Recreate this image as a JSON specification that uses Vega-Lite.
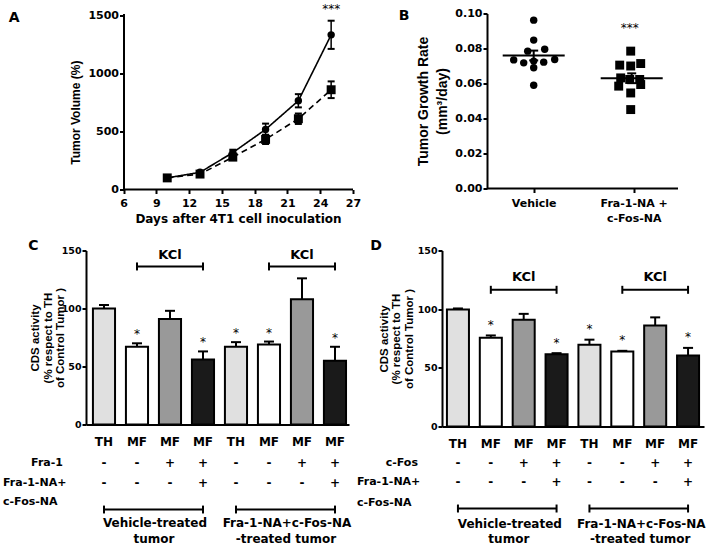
{
"$schema": "https://vega.github.io/schema/vega-lite/v6.json",
"padding": {"left": 2, "top": 2.5, "right": 4, "bottom": 4},
"config": {
 "view": {"stroke": null},
 "font": "DejaVu Sans",
 "axis": {"domainColor": "#000", "domainWidth": 2, "tickColor": "#000", "tickWidth": 2, "labelColor": "#000", "labelFont": "DejaVu Sans", "labelFontWeight": "bold", "labelFontSize": 11, "labelOverlap": false, "titleColor": "#000", "titleFont": "Liberation Sans", "titleFontWeight": "bold", "titleFontSize": 12, "grid": false},
 "text": {"color": "#000", "font": "DejaVu Sans", "fontWeight": "bold", "fontSize": 12},
 "tick": {"color": "#000", "opacity": 1},
 "rule": {"color": "#000"},
 "line": {"color": "#000"}
},
"datasets": {
 "A": [
  {"day": 10, "group": "Vehicle", "mean": 100, "lo": 95, "hi": 105},
  {"day": 13, "group": "Vehicle", "mean": 148, "lo": 136, "hi": 160},
  {"day": 16, "group": "Vehicle", "mean": 318, "lo": 293, "hi": 343},
  {"day": 19, "group": "Vehicle", "mean": 518, "lo": 468, "hi": 568},
  {"day": 22, "group": "Vehicle", "mean": 765, "lo": 708, "hi": 822},
  {"day": 25, "group": "Vehicle", "mean": 1333, "lo": 1212, "hi": 1455},
  {"day": 10, "group": "Fra-1-NA + c-Fos-NA", "mean": 100, "lo": 95, "hi": 105},
  {"day": 13, "group": "Fra-1-NA + c-Fos-NA", "mean": 133, "lo": 121, "hi": 145},
  {"day": 16, "group": "Fra-1-NA + c-Fos-NA", "mean": 279, "lo": 257, "hi": 301},
  {"day": 19, "group": "Fra-1-NA + c-Fos-NA", "mean": 432, "lo": 392, "hi": 472},
  {"day": 22, "group": "Fra-1-NA + c-Fos-NA", "mean": 610, "lo": 565, "hi": 655},
  {"day": 25, "group": "Fra-1-NA + c-Fos-NA", "mean": 860, "lo": 788, "hi": 932}
 ],
 "oneA": [{"panel": "A"}],
 "oneB": [{"panel": "B"}],
 "oneC": [{"panel": "C"}],
 "oneD": [{"panel": "D"}],
 "B": [
  {"grp": "Vehicle", "pos": 1.00, "rate": 0.0962},
  {"grp": "Vehicle", "pos": 1.00, "rate": 0.0848},
  {"grp": "Vehicle", "pos": 1.11, "rate": 0.0796},
  {"grp": "Vehicle", "pos": 0.94, "rate": 0.0785},
  {"grp": "Vehicle", "pos": 0.80, "rate": 0.0735},
  {"grp": "Vehicle", "pos": 0.90, "rate": 0.0718},
  {"grp": "Vehicle", "pos": 1.00, "rate": 0.0728},
  {"grp": "Vehicle", "pos": 1.10, "rate": 0.0722},
  {"grp": "Vehicle", "pos": 1.21, "rate": 0.0737},
  {"grp": "Vehicle", "pos": 1.00, "rate": 0.0690},
  {"grp": "Vehicle", "pos": 1.00, "rate": 0.0590},
  {"grp": "Fra-1-NA + c-Fos-NA", "pos": 1.97, "rate": 0.0785},
  {"grp": "Fra-1-NA + c-Fos-NA", "pos": 1.86, "rate": 0.0705},
  {"grp": "Fra-1-NA + c-Fos-NA", "pos": 1.97, "rate": 0.0700},
  {"grp": "Fra-1-NA + c-Fos-NA", "pos": 2.07, "rate": 0.0714},
  {"grp": "Fra-1-NA + c-Fos-NA", "pos": 1.87, "rate": 0.0632},
  {"grp": "Fra-1-NA + c-Fos-NA", "pos": 1.96, "rate": 0.0623},
  {"grp": "Fra-1-NA + c-Fos-NA", "pos": 2.06, "rate": 0.0623},
  {"grp": "Fra-1-NA + c-Fos-NA", "pos": 1.85, "rate": 0.0585},
  {"grp": "Fra-1-NA + c-Fos-NA", "pos": 2.07, "rate": 0.0594},
  {"grp": "Fra-1-NA + c-Fos-NA", "pos": 1.97, "rate": 0.0546},
  {"grp": "Fra-1-NA + c-Fos-NA", "pos": 1.97, "rate": 0.0451}
 ],
 "Bsum": [
  {"grp": "Vehicle", "pos": 1.00, "rate": 0.0760, "lo": 0.0732, "hi": 0.0788},
  {"grp": "Fra-1-NA + c-Fos-NA", "pos": 1.98, "rate": 0.0630, "lo": 0.0602, "hi": 0.0658}
 ],
 "C": [
  {"bar": "1", "cond": "TH", "mean": 100, "hi": 103, "star": "", "s1": "-", "s2": "-"},
  {"bar": "2", "cond": "MF", "mean": 67, "hi": 70, "star": "*", "s1": "-", "s2": "-"},
  {"bar": "3", "cond": "MF+", "mean": 91, "hi": 98, "star": "", "s1": "+", "s2": "-"},
  {"bar": "4", "cond": "MF++", "mean": 56, "hi": 63, "star": "*", "s1": "+", "s2": "+"},
  {"bar": "5", "cond": "TH", "mean": 67, "hi": 71, "star": "*", "s1": "-", "s2": "-"},
  {"bar": "6", "cond": "MF", "mean": 69, "hi": 71.5, "star": "*", "s1": "-", "s2": "-"},
  {"bar": "7", "cond": "MF+", "mean": 108, "hi": 126, "star": "", "s1": "+", "s2": "-"},
  {"bar": "8", "cond": "MF++", "mean": 55, "hi": 67, "star": "*", "s1": "+", "s2": "+"}
 ],
 "D": [
  {"bar": "1", "cond": "TH", "mean": 99.7, "hi": 100.6, "star": "", "s1": "-", "s2": "-"},
  {"bar": "2", "cond": "MF", "mean": 75.6, "hi": 77.6, "star": "*", "s1": "-", "s2": "-"},
  {"bar": "3", "cond": "MF+", "mean": 91, "hi": 96, "star": "", "s1": "+", "s2": "-"},
  {"bar": "4", "cond": "MF++", "mean": 61.6, "hi": 62.5, "star": "*", "s1": "+", "s2": "+"},
  {"bar": "5", "cond": "TH", "mean": 69.6, "hi": 74, "star": "*", "s1": "-", "s2": "-"},
  {"bar": "6", "cond": "MF", "mean": 64, "hi": 64.5, "star": "*", "s1": "-", "s2": "-"},
  {"bar": "7", "cond": "MF+", "mean": 86, "hi": 93, "star": "", "s1": "+", "s2": "-"},
  {"bar": "8", "cond": "MF++", "mean": 60.5, "hi": 67, "star": "*", "s1": "+", "s2": "+"}
 ],
 "kclC": [{"panel": "C", "a": "2", "b": "4", "m": "3"}, {"panel": "C", "a": "6", "b": "8", "m": "7"}],
 "kclD": [{"panel": "D", "a": "2", "b": "4", "m": "3"}, {"panel": "D", "a": "6", "b": "8", "m": "7"}],
 "grpC": [
  {"panel": "C", "a": "1", "b": "4", "m": "2", "l1": "Vehicle-treated", "l2": "tumor"},
  {"panel": "C", "a": "5", "b": "8", "m": "6", "l1": "Fra-1-NA+c-Fos-NA", "l2": "-treated tumor"}
 ],
 "grpD": [
  {"panel": "D", "a": "1", "b": "4", "m": "2", "l1": "Vehicle-treated", "l2": "tumor"},
  {"panel": "D", "a": "5", "b": "8", "m": "6", "l1": "Fra-1-NA+c-Fos-NA", "l2": "-treated tumor"}
 ]
},
"columns": 2,
"spacing": {"row": 61, "column": 89},
"bounds": "flush",
"align": "all",
"concat": [
 {
  "width": 267, "height": 176,
  "data": {"name": "A"},
  "layer": [
   {"mark": {"type": "rule", "strokeWidth": 1.5}, "encoding": {
     "x": {"field": "day", "type": "quantitative", "scale": {"domain": [2.565, 27], "nice": false, "zero": false},
      "axis": {"values": [6, 9, 12, 15, 18, 21, 24, 27], "format": "d", "tickCount": 50, "labelOverlap": false, "labelFlush": false, "domain": false, "tickSize": 4, "labelPadding": 3.5, "title": "Days after 4T1 cell inoculation", "titleFont": "DejaVu Sans", "titleFontSize": 12, "titleX": 152, "titlePadding": 5}},
     "y": {"field": "lo", "type": "quantitative", "scale": {"domain": [0, 1517.2], "nice": false},
      "axis": {"values": [0, 500, 1000, 1500], "tickCount": 50, "labelOverlap": false, "labelFlush": false, "format": "d", "offset": -37.5, "tickSize": 4, "labelPadding": 1, "title": "Tumor Volume (%)", "titleFontSize": 12, "titlePadding": 5, "titleY": 98.7}},
     "y2": {"field": "hi"}}},
   {"mark": {"type": "tick", "orient": "horizontal", "size": 7, "thickness": 2}, "encoding": {"x": {"field": "day", "type": "quantitative"}, "y": {"field": "hi", "type": "quantitative"}}},
   {"mark": {"type": "tick", "orient": "horizontal", "size": 7, "thickness": 2}, "encoding": {"x": {"field": "day", "type": "quantitative"}, "y": {"field": "lo", "type": "quantitative"}}},
   {"mark": {"type": "line", "strokeWidth": 1.6}, "encoding": {"x": {"field": "day", "type": "quantitative"}, "y": {"field": "mean", "type": "quantitative"},
     "strokeDash": {"field": "group", "type": "nominal", "scale": {"domain": ["Vehicle", "Fra-1-NA + c-Fos-NA"], "range": [[1, 0], [6, 4]]}, "legend": null}}},
   {"mark": {"type": "point", "filled": true, "opacity": 1, "color": "#000"}, "encoding": {"x": {"field": "day", "type": "quantitative"}, "y": {"field": "mean", "type": "quantitative"},
     "shape": {"field": "group", "type": "nominal", "scale": {"domain": ["Vehicle", "Fra-1-NA + c-Fos-NA"], "range": ["circle", "square"]}, "legend": null},
     "size": {"field": "group", "type": "nominal", "scale": {"domain": ["Vehicle", "Fra-1-NA + c-Fos-NA"], "range": [55, 80]}, "legend": null}}},
   {"data": {"name": "oneA"}, "mark": {"type": "rule", "strokeWidth": 2}, "encoding": {"x": {"datum": 6}, "x2": {"datum": 27}, "y": {"datum": 0}}},
   {"data": {"name": "oneA"}, "mark": {"type": "text", "fontWeight": "normal", "fontSize": 12, "baseline": "middle"}, "encoding": {"x": {"datum": 25}, "y": {"datum": 1556}, "text": {"value": "***"}}},
   {"data": {"name": "oneA"}, "mark": {"type": "text", "fontSize": 14, "baseline": "middle"}, "encoding": {"x": {"datum": -4.01}, "y": {"datum": 1479}, "text": {"field": "panel"}}}
  ]
 },
 {
  "width": 236, "height": 175,
  "data": {"name": "B"},
  "layer": [
   {"mark": {"type": "point", "filled": true, "opacity": 1, "color": "#000"}, "encoding": {
     "x": {"field": "pos", "type": "quantitative", "scale": {"domain": [0.083, 2.443], "nice": false, "zero": false},
      "axis": {"values": [1, 2], "tickCount": 50, "labelOverlap": false, "labelFlush": false, "domain": false, "tickSize": 4, "labelPadding": 5, "labelExpr": "datum.value == 1 ? 'Vehicle' : ['Fra-1-NA +', 'c-Fos-NA']", "labelLineHeight": 15, "title": null}},
     "y": {"field": "rate", "type": "quantitative", "scale": {"domain": [0, 0.1], "nice": false},
      "axis": {"values": [0, 0.02, 0.04, 0.06, 0.08, 0.1], "tickCount": 50, "labelOverlap": false, "labelFlush": false, "format": ".2f", "offset": -45, "tickSize": 4, "labelPadding": 1, "title": ["Tumor Growth Rate", "(mm³/day)"], "titleFontSize": 14, "titleLineHeight": 19, "titlePadding": 5}},
     "shape": {"field": "grp", "type": "nominal", "scale": {"domain": ["Vehicle", "Fra-1-NA + c-Fos-NA"], "range": ["circle", "square"]}, "legend": null},
     "size": {"field": "grp", "type": "nominal", "scale": {"domain": ["Vehicle", "Fra-1-NA + c-Fos-NA"], "range": [48, 70]}, "legend": null}}},
   {"data": {"name": "Bsum"}, "mark": {"type": "tick", "orient": "horizontal", "size": 62, "thickness": 2}, "encoding": {"x": {"field": "pos", "type": "quantitative"}, "y": {"field": "rate", "type": "quantitative"}}},
   {"data": {"name": "Bsum"}, "mark": {"type": "rule", "strokeWidth": 2}, "encoding": {"x": {"field": "pos", "type": "quantitative"}, "y": {"field": "lo", "type": "quantitative"}, "y2": {"field": "hi"}}},
   {"data": {"name": "Bsum"}, "mark": {"type": "tick", "orient": "horizontal", "size": 9, "thickness": 2}, "encoding": {"x": {"field": "pos", "type": "quantitative"}, "y": {"field": "hi", "type": "quantitative"}}},
   {"data": {"name": "Bsum"}, "mark": {"type": "tick", "orient": "horizontal", "size": 9, "thickness": 2}, "encoding": {"x": {"field": "pos", "type": "quantitative"}, "y": {"field": "lo", "type": "quantitative"}}},
   {"data": {"name": "oneB"}, "mark": {"type": "rule", "strokeWidth": 2}, "encoding": {"x": {"datum": 0.533}, "x2": {"datum": 2.443}, "y": {"datum": 0}}},
   {"data": {"name": "oneB"}, "mark": {"type": "text", "fontWeight": "normal", "fontSize": 12, "baseline": "middle"}, "encoding": {"x": {"datum": 1.96}, "y": {"datum": 0.0919}, "text": {"value": "***"}}},
   {"data": {"name": "oneB"}, "mark": {"type": "text", "fontSize": 14, "baseline": "middle"}, "encoding": {"x": {"datum": -0.297}, "y": {"datum": 0.0986}, "text": {"field": "panel"}}}
  ]
 },
 {
  "width": 263, "height": 174,
  "data": {"name": "C"},
  "layer": [
   {"mark": {"type": "bar", "stroke": "#000", "strokeWidth": 2}, "encoding": {
     "x": {"field": "bar", "type": "nominal", "scale": {"paddingInner": 0.33, "paddingOuter": 0.15, "align": 0.7},
      "axis": {"labelAngle": 0, "ticks": false, "labelPadding": 12, "labelFontSize": 12, "labelExpr": "datum.value == '1' || datum.value == '5' ? 'TH' : 'MF'", "title": null}},
     "y": {"field": "mean", "type": "quantitative", "scale": {"domain": [0, 150], "nice": false},
      "axis": {"values": [0, 50, 100, 150], "format": "d", "tickCount": 50, "labelOverlap": false, "labelFlush": false, "tickSize": 4, "labelPadding": 1, "labelFontSize": 9.5, "title": ["CDS activity", "(% respect to TH", "of Control Tumor )"], "titleFontSize": 11.5, "titleLineHeight": 12.5, "titlePadding": -4.5}},
     "fill": {"field": "cond", "type": "nominal", "scale": {"domain": ["TH", "MF", "MF+", "MF++"], "range": ["#e0e0e0", "#ffffff", "#999999", "#1a1a1a"]}, "legend": null}}},
   {"mark": {"type": "rule", "strokeWidth": 2}, "encoding": {"x": {"field": "bar", "type": "nominal"}, "y": {"field": "mean", "type": "quantitative"}, "y2": {"field": "hi"}}},
   {"mark": {"type": "tick", "orient": "horizontal", "size": 10, "thickness": 2}, "encoding": {"x": {"field": "bar", "type": "nominal"}, "y": {"field": "hi", "type": "quantitative"}}},
   {"mark": {"type": "text", "fontWeight": "normal", "fontSize": 12, "baseline": "middle", "dy": -9}, "encoding": {"x": {"field": "bar", "type": "nominal"}, "y": {"field": "hi", "type": "quantitative"}, "text": {"field": "star"}}},
   {"mark": {"type": "text", "baseline": "middle"}, "encoding": {"x": {"field": "bar", "type": "nominal"}, "y": {"datum": -32.8}, "text": {"field": "s1"}}},
   {"mark": {"type": "text", "baseline": "middle"}, "encoding": {"x": {"field": "bar", "type": "nominal"}, "y": {"datum": -50}, "text": {"field": "s2"}}},
   {"data": {"name": "oneC"}, "mark": {"type": "text", "fontSize": 11, "baseline": "middle", "align": "right", "dx": -41}, "encoding": {"x": {"datum": "1"}, "y": {"datum": -32.8}, "text": {"value": "Fra-1"}}},
   {"data": {"name": "oneC"}, "mark": {"type": "text", "fontSize": 11, "baseline": "middle", "align": "left", "dx": -101}, "encoding": {"x": {"datum": "1"}, "y": {"datum": -50}, "text": {"value": "Fra-1-NA+"}}},
   {"data": {"name": "oneC"}, "mark": {"type": "text", "fontSize": 11, "baseline": "middle", "align": "left", "dx": -101}, "encoding": {"x": {"datum": "1"}, "y": {"datum": -66.4}, "text": {"value": "c-Fos-NA"}}},
   {"data": {"name": "kclC"}, "mark": {"type": "rule", "strokeWidth": 2}, "encoding": {"x": {"field": "a", "type": "nominal"}, "x2": {"field": "b"}, "y": {"datum": 136.2}}},
   {"data": {"name": "kclC"}, "mark": {"type": "rule", "strokeWidth": 2}, "encoding": {"x": {"field": "a", "type": "nominal"}, "y": {"datum": 132.8}, "y2": {"datum": 139.7}}},
   {"data": {"name": "kclC"}, "mark": {"type": "rule", "strokeWidth": 2}, "encoding": {"x": {"field": "b", "type": "nominal"}, "y": {"datum": 132.8}, "y2": {"datum": 139.7}}},
   {"data": {"name": "kclC"}, "mark": {"type": "text", "fontSize": 13, "baseline": "middle"}, "encoding": {"x": {"field": "m", "type": "nominal"}, "y": {"datum": 145.9}, "text": {"value": "KCl"}}},
   {"data": {"name": "grpC"}, "mark": {"type": "rule", "strokeWidth": 2}, "encoding": {"x": {"field": "a", "type": "nominal"}, "x2": {"field": "b"}, "y": {"datum": -73.3}}},
   {"data": {"name": "grpC"}, "mark": {"type": "rule", "strokeWidth": 2}, "encoding": {"x": {"field": "a", "type": "nominal"}, "y": {"datum": -69.9}, "y2": {"datum": -76.7}}},
   {"data": {"name": "grpC"}, "mark": {"type": "rule", "strokeWidth": 2}, "encoding": {"x": {"field": "b", "type": "nominal"}, "y": {"datum": -69.9}, "y2": {"datum": -76.7}}},
   {"data": {"name": "grpC"}, "mark": {"type": "text", "baseline": "middle", "dx": 18}, "encoding": {"x": {"field": "m", "type": "nominal"}, "y": {"datum": -85.3}, "text": {"field": "l1"}}},
   {"data": {"name": "grpC"}, "mark": {"type": "text", "baseline": "middle", "dx": 17}, "encoding": {"x": {"field": "m", "type": "nominal"}, "y": {"datum": -98.3}, "text": {"field": "l2"}}},
   {"data": {"name": "oneC"}, "mark": {"type": "text", "fontSize": 14, "baseline": "middle", "dx": -70.5}, "encoding": {"x": {"datum": "1"}, "y": {"datum": 154.2}, "text": {"field": "panel"}}}
  ]
 },
 {
  "width": 262, "height": 176,
  "data": {"name": "D"},
  "layer": [
   {"mark": {"type": "bar", "stroke": "#000", "strokeWidth": 2}, "encoding": {
     "x": {"field": "bar", "type": "nominal", "scale": {"paddingInner": 0.33, "paddingOuter": 0.15, "align": 0.5},
      "axis": {"labelAngle": 0, "ticks": false, "labelPadding": 12, "labelFontSize": 12, "labelExpr": "datum.value == '1' || datum.value == '5' ? 'TH' : 'MF'", "title": null}},
     "y": {"field": "mean", "type": "quantitative", "scale": {"domain": [0, 150], "nice": false},
      "axis": {"values": [0, 50, 100, 150], "format": "d", "tickCount": 50, "labelOverlap": false, "labelFlush": false, "tickSize": 4, "labelPadding": 1, "labelFontSize": 9.5, "title": ["CDS activity", "(% respect to TH", "of Control Tumor )"], "titleFontSize": 11.5, "titleLineHeight": 12.5, "titlePadding": 3}},
     "fill": {"field": "cond", "type": "nominal", "scale": {"domain": ["TH", "MF", "MF+", "MF++"], "range": ["#e0e0e0", "#ffffff", "#999999", "#1a1a1a"]}, "legend": null}}},
   {"mark": {"type": "rule", "strokeWidth": 2}, "encoding": {"x": {"field": "bar", "type": "nominal"}, "y": {"field": "mean", "type": "quantitative"}, "y2": {"field": "hi"}}},
   {"mark": {"type": "tick", "orient": "horizontal", "size": 10, "thickness": 2}, "encoding": {"x": {"field": "bar", "type": "nominal"}, "y": {"field": "hi", "type": "quantitative"}}},
   {"mark": {"type": "text", "fontWeight": "normal", "fontSize": 12, "baseline": "middle", "dy": -10.5}, "encoding": {"x": {"field": "bar", "type": "nominal"}, "y": {"field": "hi", "type": "quantitative"}, "text": {"field": "star"}}},
   {"mark": {"type": "text", "baseline": "middle"}, "encoding": {"x": {"field": "bar", "type": "nominal"}, "y": {"datum": -30.7}, "text": {"field": "s1"}}},
   {"mark": {"type": "text", "baseline": "middle"}, "encoding": {"x": {"field": "bar", "type": "nominal"}, "y": {"datum": -47.7}, "text": {"field": "s2"}}},
   {"data": {"name": "oneD"}, "mark": {"type": "text", "fontSize": 11, "baseline": "middle", "align": "right", "dx": -40}, "encoding": {"x": {"datum": "1"}, "y": {"datum": -30.7}, "text": {"value": "c-Fos"}}},
   {"data": {"name": "oneD"}, "mark": {"type": "text", "fontSize": 11, "baseline": "middle", "align": "left", "dx": -101}, "encoding": {"x": {"datum": "1"}, "y": {"datum": -47.7}, "text": {"value": "Fra-1-NA+"}}},
   {"data": {"name": "oneD"}, "mark": {"type": "text", "fontSize": 11, "baseline": "middle", "align": "left", "dx": -101}, "encoding": {"x": {"datum": "1"}, "y": {"datum": -64.8}, "text": {"value": "c-Fos-NA"}}},
   {"data": {"name": "kclD"}, "mark": {"type": "rule", "strokeWidth": 2}, "encoding": {"x": {"field": "a", "type": "nominal"}, "x2": {"field": "b"}, "y": {"datum": 116.5}}},
   {"data": {"name": "kclD"}, "mark": {"type": "rule", "strokeWidth": 2}, "encoding": {"x": {"field": "a", "type": "nominal"}, "y": {"datum": 113.1}, "y2": {"datum": 119.9}}},
   {"data": {"name": "kclD"}, "mark": {"type": "rule", "strokeWidth": 2}, "encoding": {"x": {"field": "b", "type": "nominal"}, "y": {"datum": 113.1}, "y2": {"datum": 119.9}}},
   {"data": {"name": "kclD"}, "mark": {"type": "text", "fontSize": 13, "baseline": "middle"}, "encoding": {"x": {"field": "m", "type": "nominal"}, "y": {"datum": 127.2}, "text": {"value": "KCl"}}},
   {"data": {"name": "grpD"}, "mark": {"type": "rule", "strokeWidth": 2}, "encoding": {"x": {"field": "a", "type": "nominal"}, "x2": {"field": "b"}, "y": {"datum": -69.9}}},
   {"data": {"name": "grpD"}, "mark": {"type": "rule", "strokeWidth": 2}, "encoding": {"x": {"field": "a", "type": "nominal"}, "y": {"datum": -66.5}, "y2": {"datum": -73.3}}},
   {"data": {"name": "grpD"}, "mark": {"type": "rule", "strokeWidth": 2}, "encoding": {"x": {"field": "b", "type": "nominal"}, "y": {"datum": -66.5}, "y2": {"datum": -73.3}}},
   {"data": {"name": "grpD"}, "mark": {"type": "text", "baseline": "middle", "dx": 19}, "encoding": {"x": {"field": "m", "type": "nominal"}, "y": {"datum": -82.7}, "text": {"field": "l1"}}},
   {"data": {"name": "grpD"}, "mark": {"type": "text", "baseline": "middle", "dx": 18}, "encoding": {"x": {"field": "m", "type": "nominal"}, "y": {"datum": -95.5}, "text": {"field": "l2"}}},
   {"data": {"name": "oneD"}, "mark": {"type": "text", "fontSize": 14, "baseline": "middle", "dx": -82}, "encoding": {"x": {"datum": "1"}, "y": {"datum": 153.6}, "text": {"field": "panel"}}}
  ]
 }
]
}
